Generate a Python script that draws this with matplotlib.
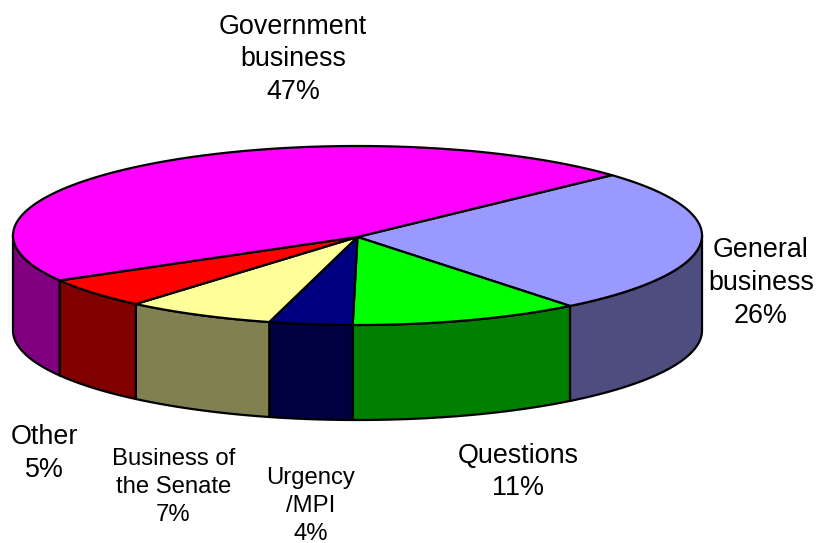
import numpy as np
import matplotlib
matplotlib.use('Agg')
import matplotlib.pyplot as plt
from matplotlib.patches import Polygon

plt.rcParams['font.family'] = ['Liberation Sans', 'DejaVu Sans']

# clockwise from the top right edge of the pie
labels = ['General\nbusiness\n26%', 'Questions\n11%', 'Urgency\n/MPI\n4%',
          'Business of\nthe Senate\n7%', 'Other\n5%', 'Government\nbusiness\n47%']
values = [26.2, 10.8, 3.9, 7.0, 5.5, 46.6]
top_colors = ['#9999FF', '#00FF00', '#000080', '#FFFF99', '#FF0000', '#FF00FF']
side_colors = ['#4D4D80', '#008000', '#000040', '#808050', '#800000', '#800080']
label_pos = [(761, 283), (518, 472), (311, 506), (173.5, 487), (44, 453.5), (293, 59.5)]
label_size = [19.4, 19.4, 17.2, 17.2, 19.4, 19.4]

cx, cy = 357.5, 235.5
rx, ry = 344.5, 89.5
apex_y = 237
depth = 95
start = 42.4


def rim(a0, a1, n=80):
    t = np.radians(np.linspace(a0, a1, n))
    return cx + rx * np.cos(t), cy - ry * np.sin(t)


fig = plt.figure(figsize=(8.17, 5.43), dpi=100)
ax = fig.add_axes([0, 0, 1, 1])
ax.set_xlim(0, 817)
ax.set_ylim(543, 0)
ax.axis('off')

edges = start - np.cumsum([0] + values) * 3.6

# sides first, only the front half of the rim shows
for i in range(len(values)):
    a0, a1 = edges[i], edges[i + 1]
    # front half runs from 0 to -180 degrees
    lo = max(a1, -180)
    hi = min(a0, 0)
    if hi <= lo:
        continue
    x, y = rim(hi, lo)
    xs = np.r_[x, x[::-1]]
    ys = np.r_[y, y[::-1] + depth]
    ax.add_patch(Polygon(np.c_[xs, ys], closed=True, fc=side_colors[i],
                         ec='black', lw=1.6, joinstyle='round'))

for i in range(len(values)):
    x, y = rim(edges[i], edges[i + 1], 200)
    xs = np.r_[cx, x]
    ys = np.r_[apex_y, y]
    ax.add_patch(Polygon(np.c_[xs, ys], closed=True, fc=top_colors[i],
                         ec='black', lw=1.6, joinstyle='round'))

for lab, pos, fs in zip(labels, label_pos, label_size):
    ax.text(pos[0], pos[1], lab, ha='center', va='center', fontsize=fs,
            linespacing=1.33, color='black')

fig.savefig('out.png', dpi=100, facecolor='white')
